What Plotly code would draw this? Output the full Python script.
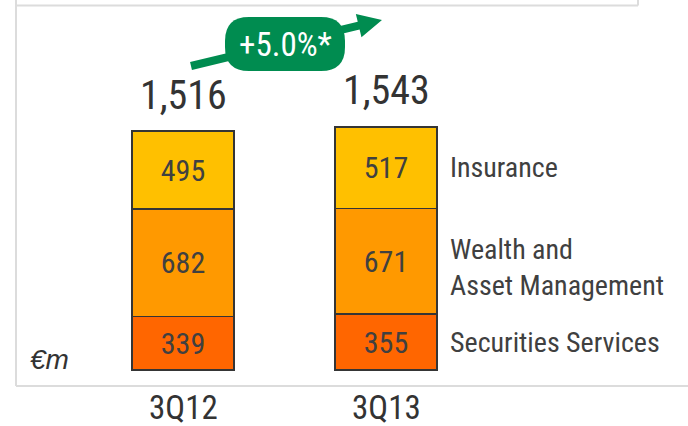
import plotly.graph_objects as go
import math

# ---- data ----
categories = ["3Q12", "3Q13"]
series_names = ["Securities Services", "Wealth and<br>Asset Management", "Insurance"]
securities = [339, 355]
wealth = [682, 671]
insurance = [495, 517]
totals = [1516, 1543]
totals_labels = ["1,516", "1,543"]
growth_label = "+5.0%*"
unit_label = "€m"

colors = ["#FF6600", "#FF9900", "#FFC000"]

W, H = 688, 426
# pixel geometry of plot mapping
x_c0, x_step = 183.0, 203.0         # pixel center of first category, spacing
base_px, px_per_unit = 370.0, 0.1576  # baseline pixel row, px per value unit

xr = [-x_c0 / x_step, (W - x_c0) / x_step]
yr = [-(H - base_px) / px_per_unit, base_px / px_per_unit]

FONT = "Roboto Condensed, Liberation Sans Narrow, Arial Narrow, sans-serif"
TXT = "#404040"

fig = go.Figure()
for name, vals, col in zip(series_names, [securities, wealth, insurance], colors):
    fig.add_trace(go.Bar(
        x=[0, 1], y=vals, name=name,
        width=102 / x_step,
        marker=dict(color=col, line=dict(color="#353535", width=1.6)),
        text=[str(v) for v in vals],
        textposition="inside", insidetextanchor="middle", textangle=0,
        constraintext="none",
        textfont=dict(family=FONT, size=30, color=TXT),
        hoverinfo="skip",
    ))

annotations = []
# totals
for i, (t, lab) in enumerate(zip(totals, totals_labels)):
    annotations.append(dict(x=i, y=t, xref="x", yref="y", text=lab, showarrow=False,
                            yanchor="middle", yshift=36,
                            font=dict(family=FONT, size=40, color="#333333")))
# category labels
for i, c in enumerate(categories):
    annotations.append(dict(x=i, y=0, xref="x", yref="y", text=c, showarrow=False,
                            yanchor="middle", yshift=-(407 - base_px),
                            font=dict(family=FONT, size=33, color="#333333")))
# series labels to the right of last bar
last = len(categories) - 1
cum = 0
shifts = [0, -6, 0]
for name, vals, ys in zip(series_names, [securities, wealth, insurance], shifts):
    mid = cum + vals[last] / 2
    cum += vals[last]
    annotations.append(dict(x=last, y=mid, xref="x", yref="y", text=name, showarrow=False,
                            xanchor="left", yanchor="middle", align="left",
                            xshift=448 - (x_c0 + x_step * last), yshift=ys,
                            font=dict(family=FONT, size=28, color=TXT)))
# unit label
annotations.append(dict(x=28 / W, y=1 - 359 / H, xref="paper", yref="paper",
                        text="<i>" + unit_label + "</i>", showarrow=False,
                        xanchor="left", yanchor="middle",
                        font=dict(family="Liberation Sans, Arial, sans-serif", size=28, color="#333333")))
# growth label
annotations.append(dict(x=285 / W, y=1 - 45 / H, xref="paper", yref="paper",
                        text=growth_label, showarrow=False,
                        xanchor="center", yanchor="middle",
                        font=dict(family=FONT, size=33, color="white")))


def px(x, y):
    return f"{x / W:.5f},{1 - y / H:.5f}"


shapes = []
grey = dict(color="#dcdcdc", width=2)
# frame lines
for (x0, y0, x1, y1) in [(16, 0, 16, 386), (16, 386, W, 386), (16, 5.5, 638, 5.5), (638, 0, 638, 5.5)]:
    shapes.append(dict(type="line", xref="paper", yref="paper",
                       x0=x0 / W, y0=1 - y0 / H, x1=x1 / W, y1=1 - y1 / H, line=grey))

# green arrow
gx = "#008C50"
tail, tip = (191.0, 66.0), (382.0, 20.0)
dx, dy = tip[0] - tail[0], tip[1] - tail[1]
L = math.hypot(dx, dy)
ux, uy = dx / L, dy / L
nx, ny = -uy, ux
hw, hl, hh = 4.0, 24.0, 12.0
bx, by = tip[0] - hl * ux, tip[1] - hl * uy
pts = [(tail[0] + hw * nx, tail[1] + hw * ny), (tail[0] - hw * nx, tail[1] - hw * ny),
       (bx - hw * nx, by - hw * ny), (bx - hh * nx, by - hh * ny), tip,
       (bx + hh * nx, by + hh * ny), (bx + hw * nx, by + hw * ny)]
path = "M" + " L".join(px(*p) for p in pts) + " Z"
shapes.append(dict(type="path", xref="paper", yref="paper", path=path,
                   fillcolor=gx, line=dict(width=0)))

# rounded box
x0, x1, y0, y1, r = 225.0, 345.0, 17.0, 71.0, 24.0
rb = (f"M{px(x0 + r, y0)} L{px(x1 - r, y0)} Q{px(x1, y0)} {px(x1, y0 + r)} "
      f"L{px(x1, y1 - r)} Q{px(x1, y1)} {px(x1 - r, y1)} L{px(x0 + r, y1)} "
      f"Q{px(x0, y1)} {px(x0, y1 - r)} L{px(x0, y0 + r)} Q{px(x0, y0)} {px(x0 + r, y0)} Z")
shapes.append(dict(type="path", xref="paper", yref="paper", path=rb,
                   fillcolor=gx, line=dict(width=0)))

fig.update_layout(
    width=W, height=H, barmode="stack", showlegend=False,
    margin=dict(l=0, r=0, t=0, b=0),
    paper_bgcolor="white", plot_bgcolor="white",
    xaxis=dict(range=xr, visible=False, fixedrange=True),
    yaxis=dict(range=yr, visible=False, fixedrange=True),
    annotations=annotations, shapes=shapes,
)

fig.write_html("out.html", config={"displayModeBar": False},
               post_script="document.body.style.margin='0';document.body.style.overflow='hidden';")
